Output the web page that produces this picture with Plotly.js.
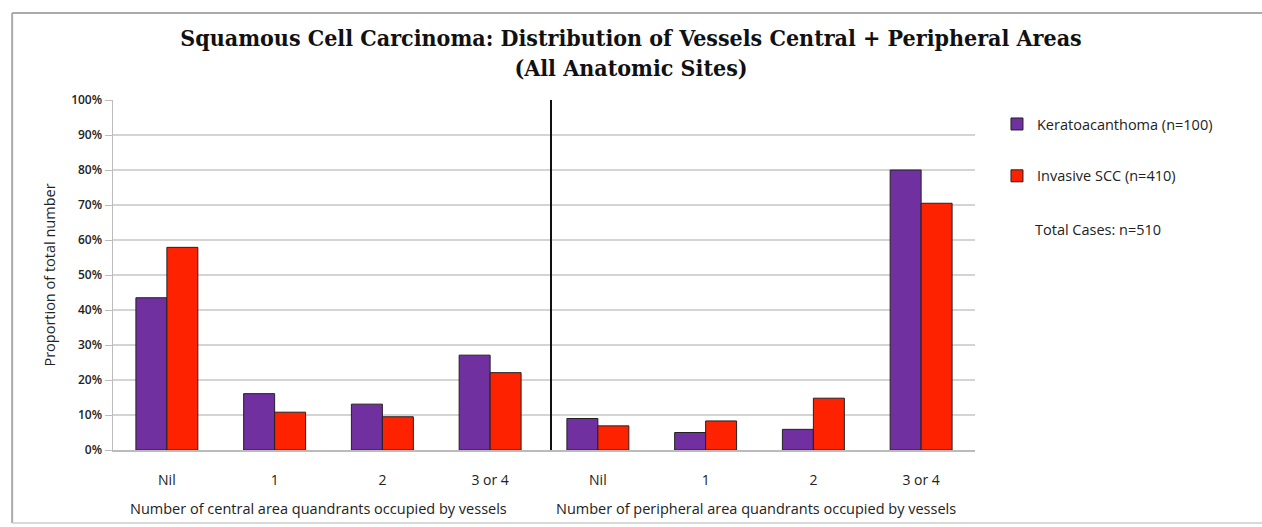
<!DOCTYPE html>
<html><head><meta charset="utf-8">
<script src="https://cdn.plot.ly/plotly-3.0.1.min.js"></script>
<style>html,body{margin:0;padding:0;background:#fff}#chart{width:1262px;height:527px}</style>
</head><body><div id="chart"></div>
<script>
const positions = [0, 1, 2, 3, 4, 5, 6, 7];
const tickLabels = ["Nil", "1", "2", "3 or 4", "Nil", "1", "2", "3 or 4"];
const keratoacanthoma = [0.435, 0.161, 0.131, 0.271, 0.090, 0.050, 0.059, 0.800];
const invasiveSCC = [0.579, 0.108, 0.095, 0.221, 0.069, 0.083, 0.148, 0.705];
const seriesNames = ["Keratoacanthoma (n=100)", "Invasive SCC (n=410)"];
const yTicks = [0, 0.1, 0.2, 0.3, 0.4, 0.5, 0.6, 0.7, 0.8, 0.9, 1.0];
const yTickText = ["0%", "10%", "20%", "30%", "40%", "50%", "60%", "70%", "80%", "90%", "100%"];

const font = "Open Sans, Liberation Sans, sans-serif";
const traces = [
  {type: "bar", x: positions, y: keratoacanthoma, name: seriesNames[0], legendgroup: "a",
   marker: {color: "#7030A0", line: {color: "#222", width: 1}}, hoverinfo: "y"},
  {type: "bar", x: positions, y: invasiveSCC, name: seriesNames[1], legendgroup: "b",
   marker: {color: "#FF2200", line: {color: "#222", width: 1}}, hoverinfo: "y"}
];
const frameLine = {color: "#aaa", width: 2};
const layout = {
  width: 1262, height: 527,
  paper_bgcolor: "#fff", plot_bgcolor: "#fff",
  margin: {l: 113, r: 287, t: 100, b: 77},
  barmode: "group", bargap: 0.425, bargroupgap: 0,
  title: {text: "<b>Squamous Cell Carcinoma: Distribution of Vessels Central + Peripheral Areas<br>(All Anatomic Sites)</b>",
          font: {family: "DejaVu Serif Condensed, Liberation Serif, serif", size: 23, color: "#111"},
          x: 0.5, xanchor: "center", y: 0.913, yanchor: "top"},
  xaxis: {range: [-0.5, 7.5], tickmode: "array", tickvals: positions, ticktext: tickLabels,
          showgrid: false, zeroline: false, showline: true, linecolor: "#bbb", linewidth: 1.5,
          ticks: "", ticklabelstandoff: 17, tickfont: {family: font, size: 14, color: "#222"}, fixedrange: true},
  yaxis: {range: [0, 1.0], tickmode: "array", tickvals: yTicks, ticktext: yTickText,
          showgrid: true, gridcolor: "#d4d4d4", gridwidth: 1.5, zeroline: false,
          showline: true, linecolor: "#bbb", linewidth: 1.5, ticks: "outside", ticklen: 7,
          tickcolor: "#bbb", tickfont: {family: font, size: 12, color: "#222", weight: 600},
          title: {text: "Proportion of total number", font: {family: font, size: 14.5, color: "#222"}, standoff: 12},
          fixedrange: true},
  legend: {x: 1.0255, xref: "paper", xanchor: "left", y: 0.977, yanchor: "top", traceorder: "grouped", tracegroupgap: 30,
           font: {family: font, size: 14.5, color: "#222"}, bgcolor: "rgba(0,0,0,0)"},
  showlegend: true,
  annotations: [
    {xref: "paper", yref: "paper", x: 1.067, y: 0.631, xanchor: "left", yanchor: "middle", showarrow: false,
     text: "Total Cases: n=510", font: {family: font, size: 14.5, color: "#222"}},
    {xref: "x", yref: "paper", x: 1.41, y: -0.166, xanchor: "center", yanchor: "middle", showarrow: false,
     text: "Number of central area quandrants occupied by vessels", font: {family: font, size: 14.5, color: "#222"}},
    {xref: "x", yref: "paper", x: 5.47, y: -0.166, xanchor: "center", yanchor: "middle", showarrow: false,
     text: "Number of peripheral area quandrants occupied by vessels", font: {family: font, size: 14.5, color: "#222"}}
  ],
  shapes: [
    {type: "line", xref: "x", yref: "paper", x0: 3.565, x1: 3.565, y0: 0, y1: 1.0, line: {color: "#111", width: 2}},
    {type: "line", xref: "paper", yref: "paper", x0: -0.117, x1: 1.34, y0: 1.2486, y1: 1.2486, line: frameLine},
    {type: "line", xref: "paper", yref: "paper", x0: -0.117, x1: -0.117, y0: -0.2086, y1: 1.2486, line: frameLine},
    {type: "line", xref: "paper", yref: "paper", x0: -0.117, x1: 1.34, y0: -0.2086, y1: -0.2086, line: {color: "#ccc", width: 1.5}}
  ]
};
Plotly.newPlot("chart", traces, layout, {displayModeBar: false, staticPlot: true});
</script></body></html>
